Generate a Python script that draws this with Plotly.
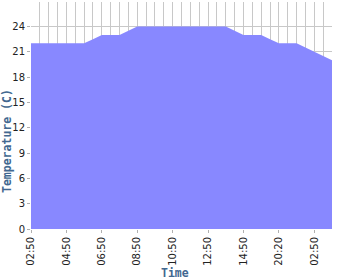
import plotly.graph_objects as go

temps = [22, 22, 22, 22, 22, 22, 22, 22.5, 23, 23, 23, 23.5,
         24, 24, 24, 24, 24, 24, 24, 24, 24, 24, 24, 23.5,
         23, 23, 23, 22.5, 22, 22, 22, 21.5, 21, 20.5, 20]
idx = list(range(len(temps)))
tick_pos = [0, 4, 8, 12, 16, 20, 24, 28, 32]
tick_labels = ["02:50", "04:50", "06:50", "08:50", "10:50", "12:50", "14:50", "20:20", "02:50"]
y_ticks = [0, 3, 6, 9, 12, 15, 18, 21, 24]

fig = go.Figure()
fig.add_trace(go.Scatter(
    x=idx, y=temps, mode="lines", fill="tozeroy",
    fillcolor="#8888ff", line=dict(width=0, color="#8888ff"),
    hoverinfo="skip", showlegend=False))

PL, PR, PT, PB = 31, 332, 2, 229
pw, ph = PR - PL, PB - PT

fig.update_layout(
    width=350, height=280,
    margin=dict(l=PL, r=350 - PR, t=PT, b=280 - PB),
    paper_bgcolor="white", plot_bgcolor="white",
    xaxis=dict(
        range=[0, 34], tickmode="array", tickvals=tick_pos, ticktext=tick_labels,
        tickangle=-90, ticks="outside", ticklen=3, tickcolor="#b0b0b0",
        tickfont=dict(family="DejaVu Sans", size=10, color="#222222"),
        showgrid=True, gridcolor="#c8c8c8", gridwidth=1,
        minor=dict(dtick=1, showgrid=True, gridcolor="#c8c8c8", gridwidth=1, ticks=""),
        zeroline=False, showline=False),
    yaxis=dict(
        range=[0, 26.9], tickvals=y_ticks, ticks="outside", ticklen=3, tickcolor="#b0b0b0",
        tickfont=dict(family="DejaVu Sans", size=10, color="#222222"),
        showgrid=True, gridcolor="#c8c8c8", gridwidth=1,
        zeroline=False, showline=False),
    annotations=[
        dict(text="<b>Time</b>", xref="paper", yref="paper",
             x=(174.5 - PL) / pw, y=(PB - 273) / ph, xanchor="center", yanchor="middle",
             showarrow=False, font=dict(family="DejaVu Sans Mono", size=11.5, color="#426890")),
        dict(text="<b>Temperature (C)</b>", xref="paper", yref="paper", textangle=-90,
             x=(7 - PL) / pw, y=(PB - 141) / ph, xanchor="center", yanchor="middle",
             showarrow=False, font=dict(family="DejaVu Sans Mono", size=11.5, color="#426890")),
    ],
)
fig.write_html("out.html")
